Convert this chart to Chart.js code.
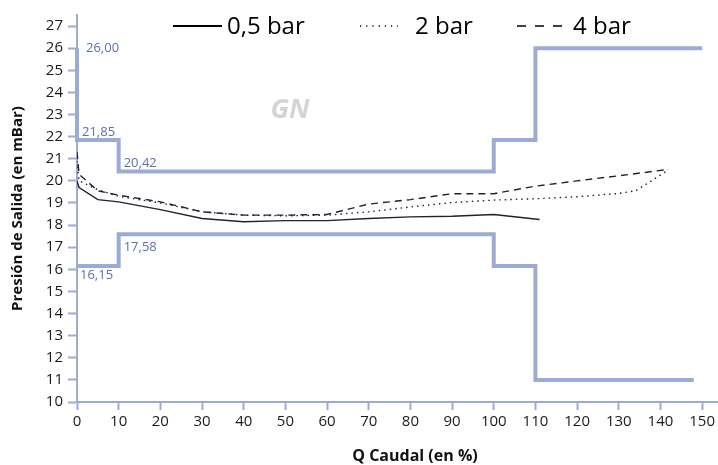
<!DOCTYPE html>
<html>
<head>
<meta charset="utf-8">
<script src="https://cdn.jsdelivr.net/npm/chart.js@4.4.0/dist/chart.umd.min.js"></script>
<style>
  html, body { margin: 0; padding: 0; background: #fff; }
</style>
</head>
<body>
<canvas id="chart" width="718" height="465"></canvas>
<script>
// flow in % and outlet pressure in mbar
const flow05 = [0, 0.5, 5, 10, 20, 30, 40, 50, 60, 70, 80, 90, 100, 111];
const pres05 = [20.0, 19.7, 19.15, 19.05, 18.7, 18.3, 18.15, 18.2, 18.2, 18.3, 18.37, 18.4, 18.48, 18.25];

const flow2 = [0, 0.5, 5, 10, 20, 30, 40, 50, 60, 70, 80, 90, 100, 110, 120, 130, 134, 137, 141.5];
const pres2 = [20.9, 20.0, 19.6, 19.3, 19.0, 18.6, 18.45, 18.42, 18.45, 18.6, 18.82, 19.02, 19.13, 19.19, 19.28, 19.43, 19.55, 19.9, 20.45];

const flow4 = [0, 0.5, 5, 10, 20, 30, 40, 50, 60, 70, 80, 90, 100, 110, 120, 130, 142];
const pres4 = [21.3, 20.3, 19.55, 19.35, 19.05, 18.6, 18.45, 18.45, 18.48, 18.95, 19.15, 19.42, 19.42, 19.76, 20.0, 20.23, 20.52];

// tolerance band
const upperX = [0, 0, 10, 10, 100, 100, 110, 110, 150];
const upperY = [26, 21.85, 21.85, 20.42, 20.42, 21.85, 21.85, 26, 26];
const lowerX = [0, 10, 10, 100, 100, 110, 110, 148];
const lowerY = [16.15, 16.15, 17.58, 17.58, 16.15, 16.15, 11, 11];

const bandLabels = ['26,00', '21,85', '20,42', '17,58', '16,15'];
const bandLabelX = [0, 0, 10, 10, 0];
const bandLabelY = [26, 21.85, 20.42, 17.58, 16.15];

const seriesNames = ['0,5 bar', '2 bar', '4 bar'];
const xTitle = 'Q Caudal (en %)';
const yTitle = 'Presión de Salida (en mBar)';

const FONT = "'Open Sans', sans-serif";
const BLUE = '#9babd3';
const LABEL_BLUE = '#5a70b4';
const INK = '#1d2430';

function zip(xs, ys) {
  return xs.map((x, i) => ({ x, y: ys[i] }));
}

// pixel nudges for the band value labels
const labelOffsets = [[9, 0], [5, -8], [5, -8], [5, 13], [3, 9]];

const extras = {
  id: 'extras',
  afterDatasetsDraw(chart) {
    const ctx = chart.ctx;
    const xs = chart.scales.x, ys = chart.scales.y;
    ctx.save();

    // band values
    ctx.fillStyle = LABEL_BLUE;
    ctx.font = '13px ' + FONT;
    ctx.textAlign = 'left';
    ctx.textBaseline = 'middle';
    bandLabels.forEach((t, i) => {
      const px = xs.getPixelForValue(bandLabelX[i]) + labelOffsets[i][0];
      const py = ys.getPixelForValue(bandLabelY[i]) + labelOffsets[i][1];
      ctx.fillText(t, px, py);
    });

    // GN mark
    ctx.fillStyle = '#d4d4d4';
    ctx.font = 'italic bold 27px ' + FONT;
    ctx.textAlign = 'center';
    ctx.fillText('GN', 290, 110);

    // x axis title, sits a bit right of the axis centre in the original
    ctx.fillStyle = '#111';
    ctx.font = 'bold 16px ' + FONT;
    ctx.fillText(xTitle, 415, 456);

    // legend
    const items = [
      { x1: 173, x2: 222, tx: 227, dash: [] , w: 2.2},
      { x1: 360, x2: 398, tx: 415, dash: [1.2, 5], w: 1.4 },
      { x1: 517, x2: 563, tx: 573, dash: [9, 9], w: 1.6 }
    ];
    ctx.font = '24px ' + FONT;
    ctx.textAlign = 'left';
    items.forEach((it, i) => {
      ctx.strokeStyle = '#000';
      ctx.lineWidth = it.w;
      ctx.setLineDash(it.dash);
      ctx.beginPath();
      ctx.moveTo(it.x1, 26);
      ctx.lineTo(it.x2, 26);
      ctx.stroke();
      ctx.fillStyle = '#000';
      ctx.fillText(seriesNames[i], it.tx, 27);
    });
    ctx.restore();
  }
};

const ctx = document.getElementById('chart').getContext('2d');
new Chart(ctx, {
  type: 'line',
  data: {
    datasets: [
      { label: 'sup', data: zip(upperX, upperY), borderColor: BLUE, borderWidth: 4, pointRadius: 0, tension: 0, clip: false },
      { label: 'inf', data: zip(lowerX, lowerY), borderColor: BLUE, borderWidth: 4, pointRadius: 0, tension: 0, clip: false },
      { label: seriesNames[0], data: zip(flow05, pres05), borderColor: INK, borderWidth: 1.4, pointRadius: 0, tension: 0 },
      { label: seriesNames[1], data: zip(flow2, pres2), borderColor: INK, borderWidth: 1.4, borderDash: [1.5, 4], pointRadius: 0, tension: 0 },
      { label: seriesNames[2], data: zip(flow4, pres4), borderColor: INK, borderWidth: 1.4, borderDash: [7, 5], pointRadius: 0, tension: 0 }
    ]
  },
  options: {
    responsive: false,
    animation: false,
    layout: { padding: { top: 15, right: 0, left: 0, bottom: 0 } },
    plugins: { legend: { display: false }, tooltip: { enabled: false } },
    scales: {
      x: {
        type: 'linear',
        min: 0,
        max: 153.8,
        border: { color: BLUE, width: 2 },
        grid: { drawOnChartArea: false, drawTicks: true, tickLength: 8, tickWidth: 2, tickColor: BLUE },
        ticks: { stepSize: 10, includeBounds: false, color: '#1a1a1a', font: { family: FONT, size: 15 }, padding: 3, maxRotation: 0 },
        title: { display: false },
        afterFit: s => { s.height = 63; }
      },
      y: {
        min: 10,
        max: 27.5,
        border: { color: BLUE, width: 2 },
        grid: { drawOnChartArea: false, drawTicks: true, tickLength: 9, tickWidth: 2, tickColor: BLUE },
        ticks: { stepSize: 1, includeBounds: false, color: '#1a1a1a', font: { family: FONT, size: 15 }, padding: 5 },
        title: { display: true, text: yTitle, color: '#111', font: { family: FONT, size: 15, weight: 'bold' }, padding: { top: 9, bottom: 0 } },
        afterFit: s => { s.width = 77; }
      }
    }
  },
  plugins: [extras]
});
</script>
</body>
</html>
